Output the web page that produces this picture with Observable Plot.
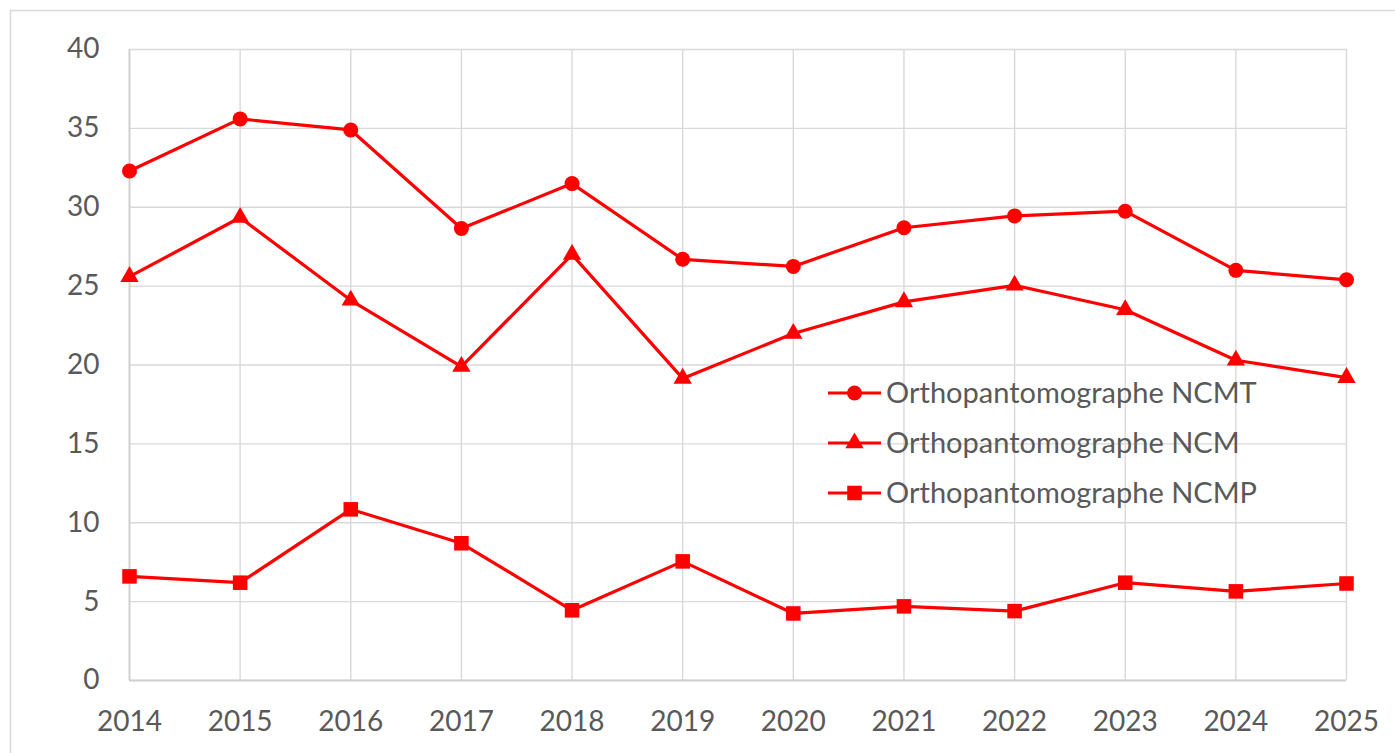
<!DOCTYPE html>
<html>
<head>
<meta charset="utf-8">
<script src="https://cdn.jsdelivr.net/npm/d3@7"></script>
<script src="https://cdn.jsdelivr.net/npm/@observablehq/plot@0.6"></script>
<style>
  html, body { margin: 0; padding: 0; background: #fff; }
  #chart { position: relative; width: 1395px; height: 753px; overflow: hidden; }
</style>
</head>
<body>
<div id="chart"></div>
<script>
const years = [2014, 2015, 2016, 2017, 2018, 2019, 2020, 2021, 2022, 2023, 2024, 2025];
const ncmt = [32.3, 35.6, 34.9, 28.65, 31.5, 26.7, 26.25, 28.7, 29.45, 29.75, 26.0, 25.4];
const ncm  = [25.6, 29.35, 24.1, 19.9, 27.0, 19.15, 22.0, 24.0, 25.05, 23.5, 20.3, 19.2];
const ncmp = [6.6, 6.2, 10.85, 8.7, 4.45, 7.55, 4.25, 4.7, 4.4, 6.2, 5.65, 6.15];
const yTicks = [0, 5, 10, 15, 20, 25, 30, 35, 40];
const seriesNames = ["Orthopantomographe NCMT", "Orthopantomographe NCM", "Orthopantomographe NCMP"];
const seriesSymbols = ["circle", "triangle", "square"];
const seriesValues = [ncmt, ncm, ncmp];
const seriesR = [7.5, 6.8, 8.2];

const RED = "#ff0000";
const GRID = "#d9d9d9";
const TXT = "#595959";
const FONT = "Lato, 'Open Sans', sans-serif";

const rows = seriesNames.flatMap((name, i) =>
  years.map((year, j) => ({ year, value: seriesValues[i][j], series: name })));

const lineMarks = seriesNames.map(name =>
  Plot.line(rows.filter(d => d.series === name), { x: "year", y: "value", stroke: RED, strokeWidth: 3.2 }));
const dotMarks = seriesNames.map((name, i) =>
  Plot.dot(rows.filter(d => d.series === name), { x: "year", y: "value", fill: RED, stroke: "none", symbol: () => seriesSymbols[i], r: seriesR[i] }));

const chart = Plot.plot({
  width: 1395,
  height: 753,
  marginLeft: 129,
  marginRight: 49,
  marginTop: 49,
  marginBottom: 73,
  style: { fontFamily: FONT, fontSize: "28px", color: TXT, background: "transparent", overflow: "visible" },
  x: { type: "linear", domain: [2014, 2025] },
  y: { domain: [0, 40] },
  symbol: { type: "identity" },
  marks: [
    Plot.gridX(years, { stroke: GRID, strokeOpacity: 1, strokeWidth: 1.4 }),
    Plot.gridY(yTicks, { stroke: GRID, strokeOpacity: 1, strokeWidth: 1.4 }),
    Plot.ruleY([0], { stroke: "#d0d0d0", strokeWidth: 1.8 }),
    Plot.ruleX([2014], { stroke: "#d0d0d0", strokeWidth: 1.8 }),
    Plot.axisX(years, { tickSize: 0, tickPadding: 31, tickFormat: d => String(d), fill: TXT, fontSize: 28, label: null }),
    Plot.axisY(yTicks, { tickSize: 0, tickPadding: 30, fill: TXT, fontSize: 28, label: null }),
    ...lineMarks,
    ...dotMarks
  ]
});

document.getElementById("chart").appendChild(chart);

// chart-area border (Excel style)
const svg = d3.select(chart);
svg.insert("rect", ":first-child")
  .attr("x", 10.5).attr("y", 10.5).attr("width", 1420).attr("height", 800)
  .attr("fill", "none").attr("stroke", GRID).attr("stroke-width", 1.5);

// legend
const legend = svg.append("g").attr("font-family", FONT).attr("font-size", 29)
  .attr("fill", TXT).attr("text-anchor", "start");
const legendRowY = [393, 443, 493];
seriesNames.forEach((name, i) => {
  const g = legend.append("g").attr("transform", `translate(828,${legendRowY[i]})`);
  g.append("line").attr("x1", 0).attr("x2", 53).attr("y1", 0).attr("y2", 0)
    .attr("stroke", RED).attr("stroke-width", 3.2);
  const sym = { circle: d3.symbolCircle, triangle: d3.symbolTriangle, square: d3.symbolSquare }[seriesSymbols[i]];
  g.append("path").attr("transform", "translate(26.5,0)")
    .attr("d", d3.symbol(sym, Math.PI * seriesR[i] * seriesR[i])())
    .attr("fill", RED);
  g.append("text").attr("x", 58).attr("y", 0).attr("dy", "0.36em").attr("text-anchor", "start").text(name);
});
</script>
</body>
</html>
